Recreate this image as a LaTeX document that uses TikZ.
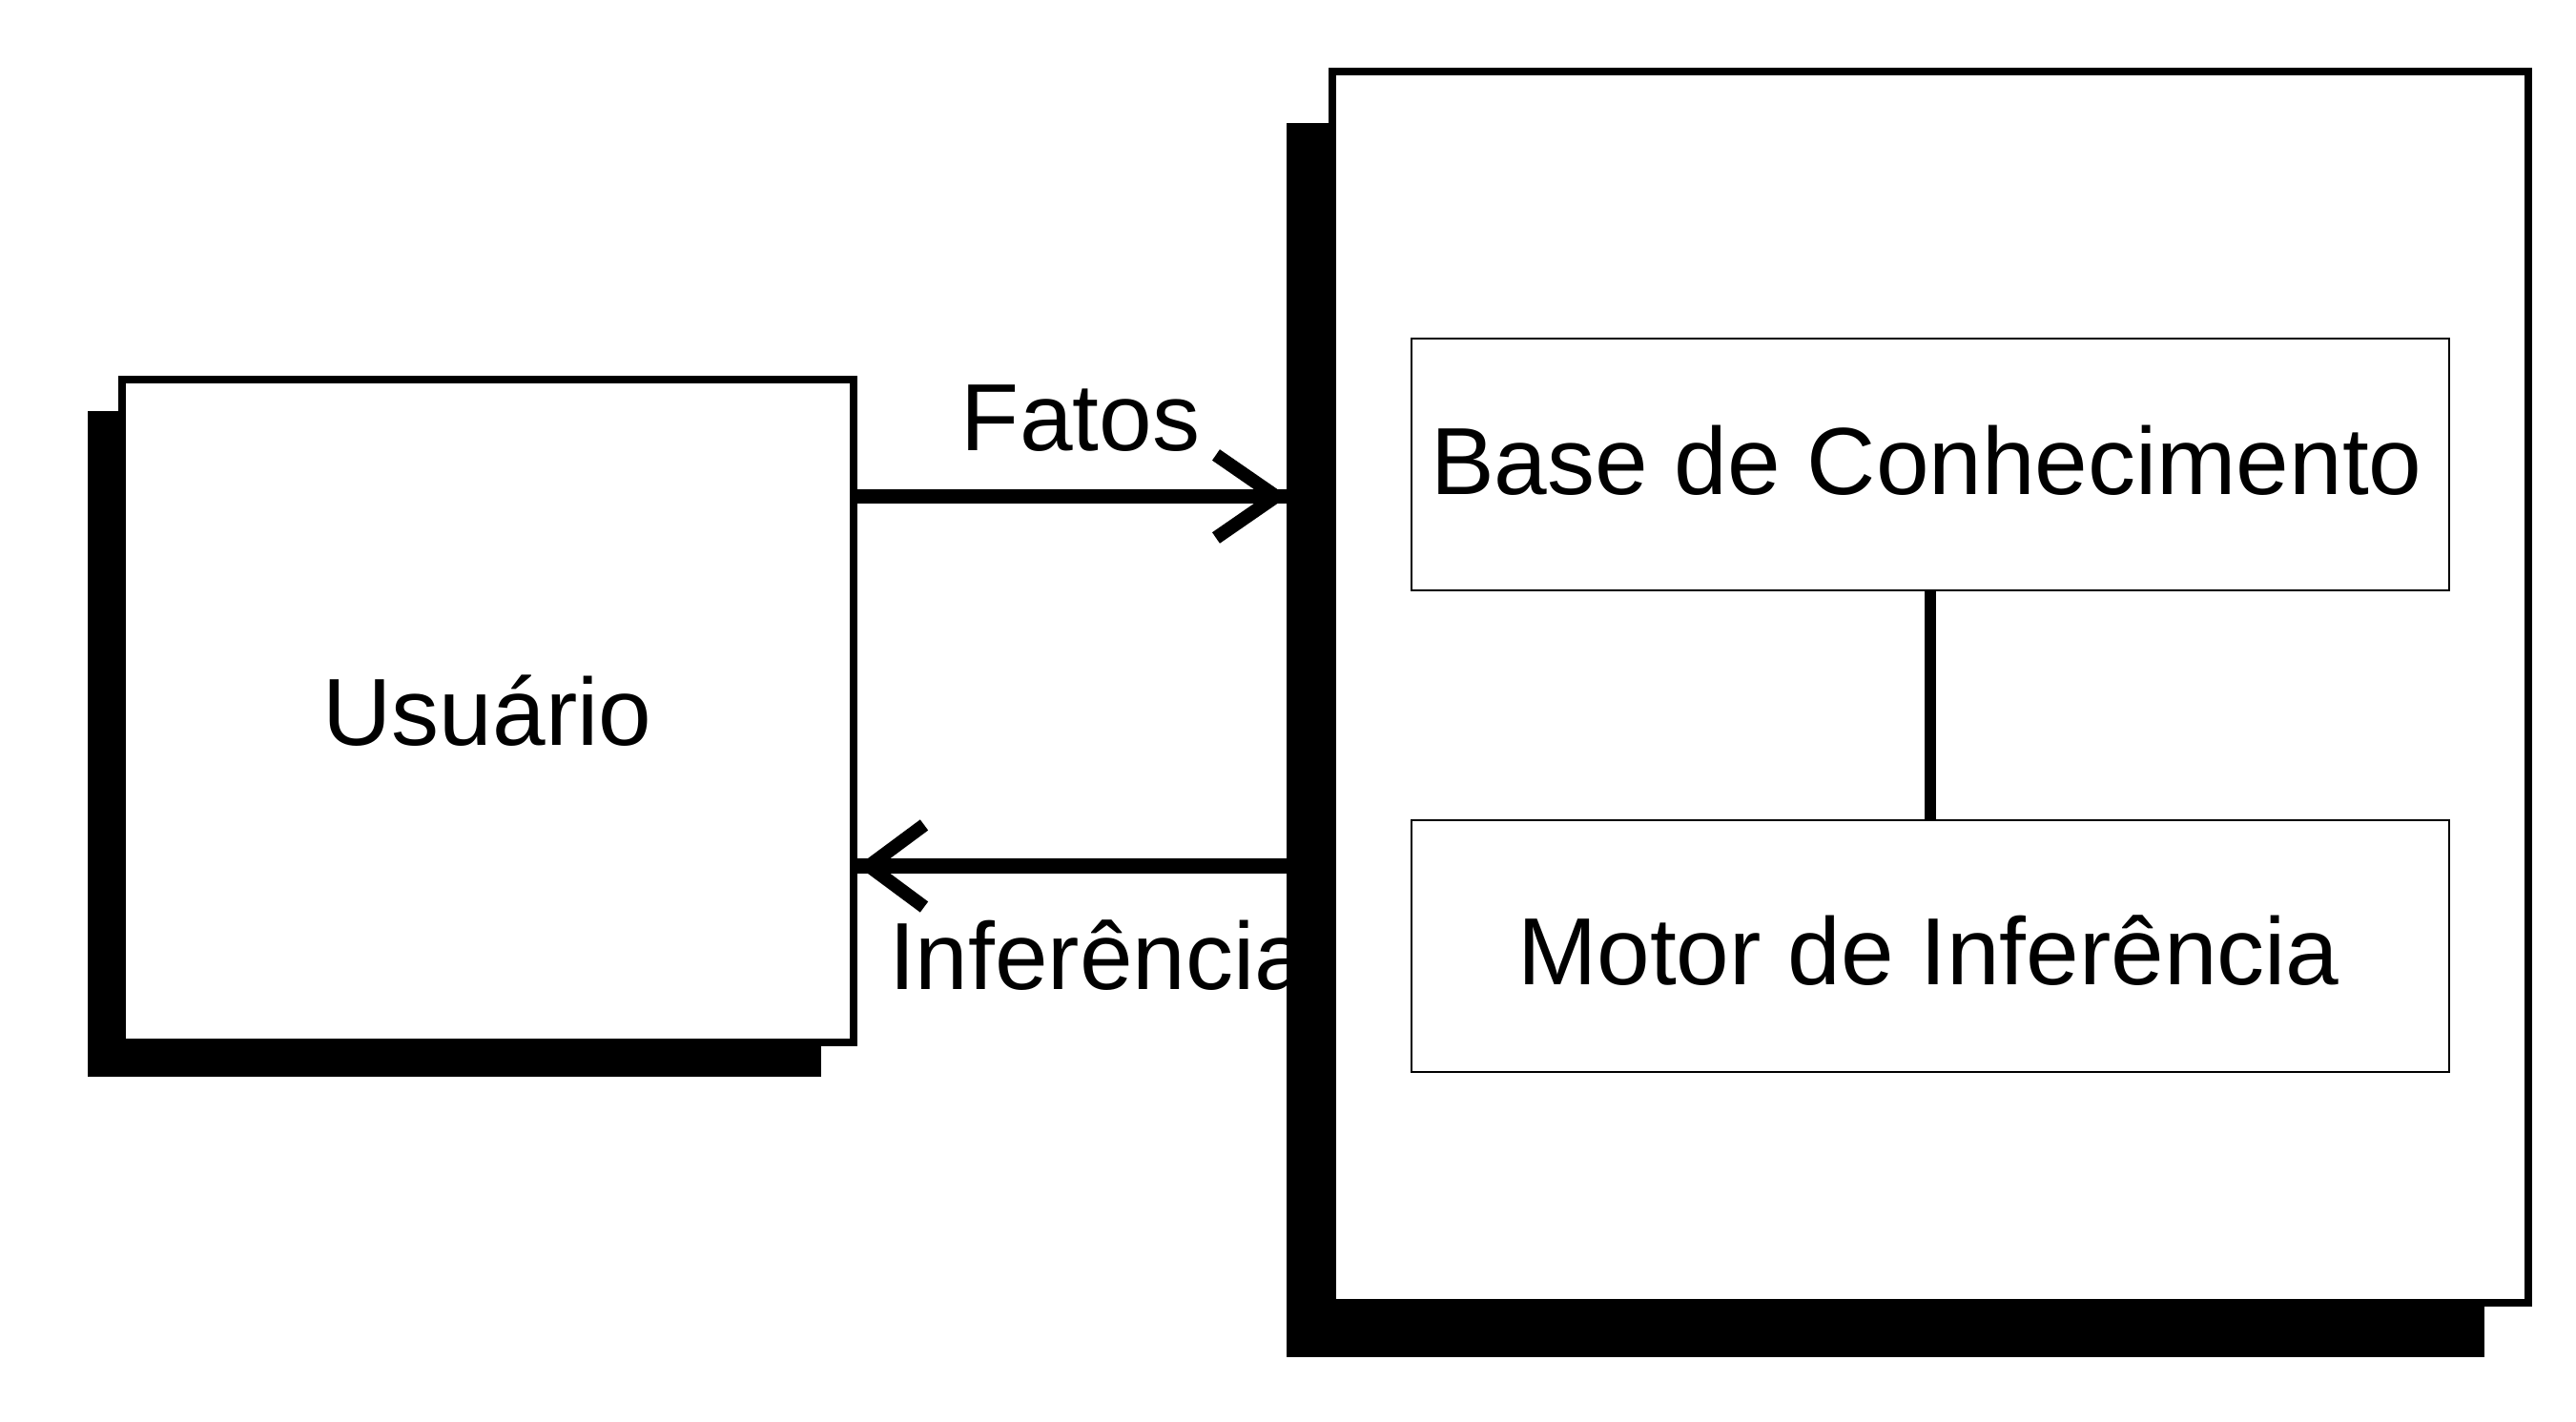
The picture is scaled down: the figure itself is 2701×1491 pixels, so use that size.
\documentclass[tikz,border=0pt]{standalone}
\usepackage{fontspec}
\setmainfont{Liberation Sans}
\usetikzlibrary{calc}
\begin{document}
\begin{tikzpicture}[x=0.1pt,y=-0.1pt,
  shadowbox/.style={fill=black, draw=none, inner sep=0pt, outer sep=0pt, rectangle},
  mainbox/.style={draw=black, fill=white, line width=0.8pt, inner sep=0pt, outer sep=0pt, rectangle},
  innerbox/.style={draw=black, fill=white, line width=0.25pt, inner sep=0pt, outer sep=0pt, rectangle},
  lbl/.style={font=\fontsize{10pt}{12pt}\selectfont, inner sep=0pt, outer sep=0pt},
  flow/.style={line width=1.55pt},
  chev/.style={line width=1.4pt, miter limit=10},
  link/.style={line width=1.2pt}
]
\useasboundingbox (0,0) rectangle (2701,1491);

% shadows
\node[shadowbox, minimum width=76.9pt, minimum height=69.8pt] (usrshadow) at (476.5,780) {};
\node[shadowbox, minimum width=125.6pt, minimum height=129.4pt] (sysshadow) at (1977,776) {};

% main boxes
\node[mainbox, minimum width=76.7pt, minimum height=69.55pt] (usr) at (511.5,745.25) {};
\node[mainbox, minimum width=125.4pt, minimum height=129.1pt] (sys) at (2024,720.5) {};

% inner boxes
\node[innerbox, minimum width=108.8pt, minimum height=26.4pt] (kb) at (2024,487) {};
\node[innerbox, minimum width=108.8pt, minimum height=26.4pt] (ie) at (2024,992) {};
\draw[link] (kb.south) -- (ie.north);

% flows
\coordinate (fy) at (0,520.5);
\coordinate (iy) at (0,908);
\coordinate (ftip) at (1338,520.5);
\coordinate (itip) at (911,908);
\draw[flow] (usr.east |- fy) -- (sysshadow.west |- fy);
\draw[chev] ($(ftip)+(-63,-43.5)$) -- (ftip) -- ($(ftip)+(-63,43.5)$);
\draw[flow] (sysshadow.west |- iy) -- (usr.east |- iy);
\draw[chev] ($(itip)+(58,-43)$) -- (itip) -- ($(itip)+(58,43)$);

% labels
\node[lbl, anchor=base] (tusr) at (511,782) {Usuário};
\node[lbl, anchor=base] (tfatos) at (1133,473) {Fatos};
\node[lbl, anchor=base west] (tinf) at (932,1038) {Inferência};
\node[lbl, anchor=base] (tkb) at (2020,519) {Base de Conhecimento};
\node[lbl, anchor=base] (tie) at (2022,1033) {Motor de Inferência};
\end{tikzpicture}
\end{document}
